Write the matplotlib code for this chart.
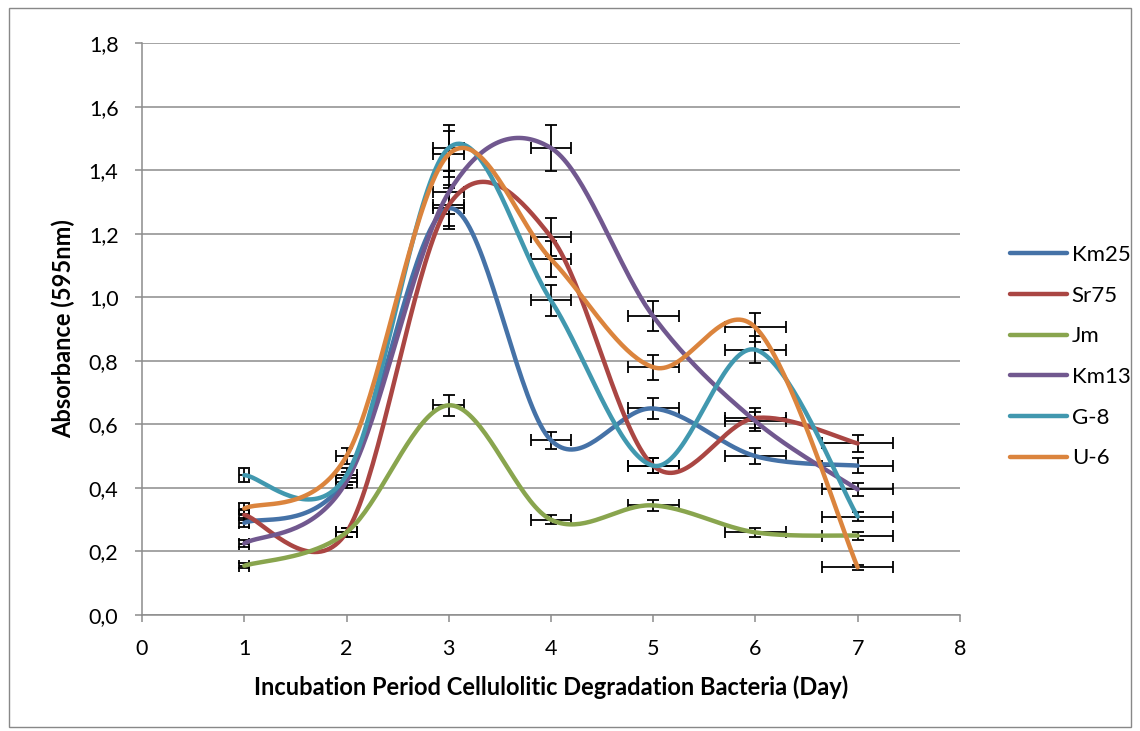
import numpy as np
import matplotlib
matplotlib.use("Agg")
import matplotlib.pyplot as plt
from matplotlib.patches import Rectangle

# Data
days = [1, 2, 3, 4, 5, 6, 7]
km25 = [0.29, 0.43, 1.28, 0.55, 0.65, 0.50, 0.47]
sr75 = [0.315, 0.26, 1.29, 1.19, 0.47, 0.62, 0.54]
jm = [0.155, 0.26, 0.66, 0.30, 0.345, 0.26, 0.25]
km13 = [0.225, 0.42, 1.33, 1.47, 0.94, 0.61, 0.395]
g8 = [0.44, 0.44, 1.47, 0.99, 0.47, 0.835, 0.31]
u6 = [0.335, 0.50, 1.45, 1.12, 0.78, 0.905, 0.15]

names = ["Km25", "Sr75", "Jm", "Km13", "G-8", "U-6"]
colors = ["#4572A7", "#AA4643", "#89A54E", "#71588F", "#4198AF", "#DB843D"]
series = [km25, sr75, jm, km13, g8, u6]
err_pct = 0.05  # 5% error bars on both axes

plt.rcParams['font.family'] = ['Lato', 'DejaVu Sans']


def smooth(x, y, n=40):
    """Excel-like smoothed line (Catmull-Rom as cubic Bezier)."""
    pts = np.column_stack([x, y]).astype(float)
    ext = np.vstack([pts[0], pts, pts[-1]])
    out = []
    t = np.linspace(0, 1, n)[:, None]
    for i in range(1, len(ext) - 2):
        p0, p1, p2, p3 = ext[i - 1], ext[i], ext[i + 1], ext[i + 2]
        c1 = p1 + (p2 - p0) / 6
        c2 = p2 - (p3 - p1) / 6
        seg = ((1 - t) ** 3) * p1 + 3 * ((1 - t) ** 2) * t * c1 + 3 * (1 - t) * t ** 2 * c2 + t ** 3 * p2
        out.append(seg if i == 1 else seg[1:])
    out = np.vstack(out)
    return out[:, 0], out[:, 1]


fig = plt.figure(figsize=(11.4, 7.31), dpi=100)
ax = fig.add_axes([0.1246, 0.1587, 0.842 - 0.1246, 0.941 - 0.1587])

# chart border
fig.patches.append(Rectangle((0.008, 0.006), 0.984, 0.983, transform=fig.transFigure,
                             fill=False, edgecolor="#888888", linewidth=1.0))

x = np.array(days, dtype=float)
for name, col, vals in zip(names, colors, series):
    y = np.array(vals)
    ax.errorbar(x, y, xerr=err_pct * x, yerr=err_pct * y, fmt='none', ecolor='black',
                elinewidth=1.3, capsize=4, capthick=1.3, zorder=3)
for name, col, vals in zip(names, colors, series):
    sx, sy = smooth(x, vals)
    ax.plot(sx, sy, color=col, linewidth=3.2, solid_capstyle='round', label=name, zorder=4)

ax.set_xlim(0, 8)
ax.set_ylim(0, 1.8)
ax.set_xticks(range(0, 9))
yt = np.arange(0, 1.81, 0.2)
ax.set_yticks(yt)
ax.set_yticklabels([f"{v:.1f}".replace(".", ",") for v in yt])
ax.yaxis.grid(True, color="#8c8c8c", linewidth=1.1)
ax.set_axisbelow(True)
for s in ["top", "right"]:
    ax.spines[s].set_visible(False)
for s in ["left", "bottom"]:
    ax.spines[s].set_color("#8c8c8c")
    ax.spines[s].set_linewidth(1.1)
ax.tick_params(axis='both', colors="#8c8c8c", length=5, width=1.1, labelsize=15.5,
               labelcolor='black')
ax.tick_params(axis='x', pad=12)
ax.tick_params(axis='y', pad=12)

ax.set_xlabel("Incubation Period Cellulolitic Degradation Bacteria (Day)", fontsize=17,
              fontweight='bold', labelpad=12)
ax.set_ylabel("Absorbance (595nm)", fontsize=17, fontweight='bold', labelpad=10)

fig.legend(loc='center left', bbox_to_anchor=(0.868, 0.512), frameon=False, fontsize=16,
           handlelength=2.6, handletextpad=0.2, labelspacing=0.93)

fig.savefig("out.png", dpi=100)
